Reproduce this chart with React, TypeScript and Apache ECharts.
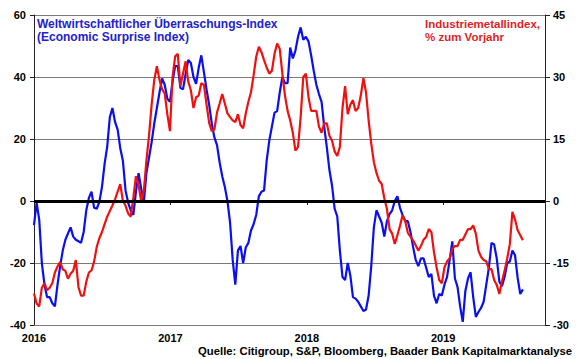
import React, { useEffect, useRef } from "react";
import * as echarts from "echarts";

// Weekly observations starting 2016-01-01
const START_YEAR = 2016;
const WEEK_IN_YEARS = 7 / 365.25;

// Economic Surprise Index (left axis)
const surpriseIndex = [
  -7.8, -0.5, -6, -20, -27, -31, -31, -33, -34, -27,
  -21, -16, -12.5, -10.5, -8.5, -11.5, -12.5, -13, -13.5, -10,
  -3, 1, 3, -2.2, -2.5, -0.3, 4.5, 12, 17.5, 27,
  30, 25.5, 23, 17, 13, 3.5, -0.5, -3, -4.5, 3,
  9, 4, -0.5, 9, 14, 19, 25, 30, 35, 39.5,
  37.5, 33, 32, 38.5, 43.5, 43.5, 36.5, 36, 41, 45.5,
  44.5, 40, 37.8, 43, 47, 41.5, 36, 31, 25, 20.5,
  18, 12.5, 8, 4.5, 0, -7, -19, -27, -16, -14.5,
  -20, -15, -13.5, -9.5, -7.5, -4.5, 1.5, 3, 3.4, 13,
  19.5, 24, 28.5, 29, 35, 40, 38, 38, 49.5, 46,
  48.5, 53, 56, 52, 53, 51.5, 47, 42, 37.5, 34.5,
  32, 24, 17.4, 10, 5, -2.5, -5, -16, -24.5, -25.5,
  -20, -24, -31, -31.5, -32.5, -34, -35.5, -35, -30.5, -21,
  -8.5, -3, -5, -7, -11.5, -6.5, -4.2, -3, 0, 1.5,
  -2.2, -4.6, -6.5, -6.5, -10, -14.8, -19, -21, -18.5, -18.5,
  -21.5, -24.5, -23.5, -30.5, -33, -30, -30.5, -27, -24.5, -19,
  -13, -25, -27.7, -34, -39, -29, -25, -23, -31, -37.4,
  -35.8, -34.5, -32.5, -27, -21.5, -13.5, -14, -18.5, -26, -27.5,
  -24.5, -20, -19.5, -16, -17.5, -24.8, -30, -28.5,
];

// Industrial metals index, % y/y (right axis)
const metalsYoY = [
  -22.4, -24.8, -25.5, -21, -19.9, -21.6, -21, -19.9, -17.3, -15.8,
  -14.8, -16.5, -16.9, -18.8, -17.6, -16.9, -14.3, -20.8, -22.9, -22.9,
  -19.5, -17.3, -16.8, -14.6, -11.1, -9, -7.5, -5.6, -3.8, -2.4,
  -1.1, 0.4, 2.3, 4.1, 0, -1.1, -3, -3.8, 0.8, 6,
  3.8, 0, 2.3, 9.8, 15.8, 23.3, 29.3, 32.6, 29.3, 27,
  26, 21, 16.9, 30, 35, 35.6, 27.8, 30.8, 33.8, 28.9,
  26.8, 22.5, 25.1, 25.5, 28.5, 28.1, 23.3, 18.9, 16.9, 17.3,
  21.4, 23.6, 25.9, 23.6, 21.2, 20.3, 19.5, 19.1, 21, 18.4,
  17.6, 21.2, 24, 26.3, 30.4, 34.9, 37.3, 36, 34.1, 32.3,
  30.8, 31.5, 35.6, 38.1, 36.8, 30.8, 25.5, 21.8, 19.5, 16.5,
  12.2, 13.1, 20.3, 30, 30.8, 25.1, 21.8, 21.8, 21.8, 18,
  16.5, 18.8, 18.8, 15.8, 14.6, 12, 10.9, 13.1, 22.5, 27.8,
  21, 23.3, 24.4, 21.8, 22.5, 25.5, 29.7, 26.3, 19.5, 13.9,
  9.4, 6.8, 4.9, 4.1, 0.6, -1.9, -6.8, -7.9, -10.4, -8.3,
  -6, -3.4, -4.9, -7.7, -8.6, -9.5, -10.7, -12, -10.9, -9.4,
  -8.7, -6.8, -7.5, -12.4, -16.1, -19.1, -19.9, -16.1, -14.6, -13.9,
  -11.6, -10.9, -10.9, -9.4, -9.4, -8.1, -6.8, -6.8, -5.9, -7.9,
  -12, -13.5, -14.3, -14.6, -16.5, -16.5, -19.1, -20.3, -22.5, -19.5,
  -16.9, -13.9, -10.5, -2.6, -4.5, -7.1, -8.3, -9.5,
];

const leftAxis = { min: -40, max: 60, interval: 20 };
const rightAxis = { min: -30, max: 45, interval: 15 };
const xAxisRange = { min: 2016, max: 2019.746, interval: 1 };

const leftTitle = "Weltwirtschaftlicher Überraschungs-Index\n(Economic Surprise Index)";
const rightTitle = "Industriemetallindex,\n% zum Vorjahr";
const sourceText = "Quelle: Citigroup, S&P, Bloomberg, Baader Bank Kapitalmarktanalyse";

const FONT = '"Liberation Sans", Arial, sans-serif';

const toPairs = (arr: number[]) =>
  arr.map((v, i) => [START_YEAR + i * WEEK_IN_YEARS, v]);

export default function App() {
  const ref = useRef<HTMLDivElement>(null);

  useEffect(() => {
    if (!ref.current) return;
    const chart = echarts.init(ref.current, undefined, { renderer: "svg" });
    const axisLabel = {
      color: "#000",
      fontWeight: "bold" as const,
      fontSize: 11,
      fontFamily: FONT,
      margin: 8,
    };
    chart.setOption({
      animation: false,
      backgroundColor: "#fff",
      grid: { left: 34, right: 35, top: 15, bottom: 34, containLabel: false },
      xAxis: {
        type: "value",
        min: xAxisRange.min,
        max: xAxisRange.max,
        interval: xAxisRange.interval,
        axisLine: { show: true, lineStyle: { color: "#222", width: 1 } },
        axisTick: { show: true, length: 4, lineStyle: { color: "#222" } },
        splitLine: { show: false },
        axisLabel: {
          ...axisLabel,
          margin: 7,
          showMaxLabel: false,
          formatter: (v: number) => (Number.isInteger(v) ? String(v) : ""),
        },
      },
      yAxis: [
        {
          type: "value",
          position: "left",
          min: leftAxis.min,
          max: leftAxis.max,
          interval: leftAxis.interval,
          axisLine: { show: true, lineStyle: { color: "#222", width: 1 } },
          axisTick: { show: true, length: 4, lineStyle: { color: "#222" } },
          splitLine: { show: true, lineStyle: { color: "#7a7a7a", width: 1 } },
          axisLabel,
        },
        {
          type: "value",
          position: "right",
          min: rightAxis.min,
          max: rightAxis.max,
          interval: rightAxis.interval,
          axisLine: { show: true, lineStyle: { color: "#222", width: 1 } },
          axisTick: { show: true, length: 5, lineStyle: { color: "#222" } },
          splitLine: { show: false },
          axisLabel,
        },
      ],
      series: [
        {
          name: "zero",
          type: "line",
          yAxisIndex: 0,
          data: [],
          z: 1,
          markLine: {
            silent: true,
            symbol: "none",
            label: { show: false },
            lineStyle: { color: "#000", width: 3, type: "solid" },
            data: [{ yAxis: 0 }],
          },
        },
        {
          name: "Economic Surprise Index",
          type: "line",
          yAxisIndex: 0,
          data: toPairs(surpriseIndex),
          showSymbol: false,
          symbol: "none",
          lineStyle: { color: "#0a0ff0", width: 2.2 },
          z: 3,
        },
        {
          name: "Industriemetallindex",
          type: "line",
          yAxisIndex: 1,
          data: toPairs(metalsYoY),
          showSymbol: false,
          symbol: "none",
          lineStyle: { color: "#f01010", width: 2.2 },
          z: 4,
        },
      ],
      graphic: [
        {
          type: "text",
          left: 37,
          top: 17,
          style: {
            text: leftTitle,
            fill: "#2222cc",
            font: `bold 12px ${FONT}`,
            lineHeight: 13,
          },
        },
        {
          type: "text",
          right: 40,
          top: 17,
          style: {
            text: rightTitle,
            fill: "#dd1f26",
            font: `bold 11.5px ${FONT}`,
            lineHeight: 13,
            align: "right",
          },
        },
        {
          type: "text",
          right: 8,
          top: 345,
          style: {
            text: sourceText,
            fill: "#000",
            font: `bold 11.3px ${FONT}`,
          },
        },
      ],
    });
    return () => chart.dispose();
  }, []);

  return (
    <div
      ref={ref}
      style={{ position: "absolute", left: 0, top: 0, width: 580, height: 359 }}
    />
  );
}
